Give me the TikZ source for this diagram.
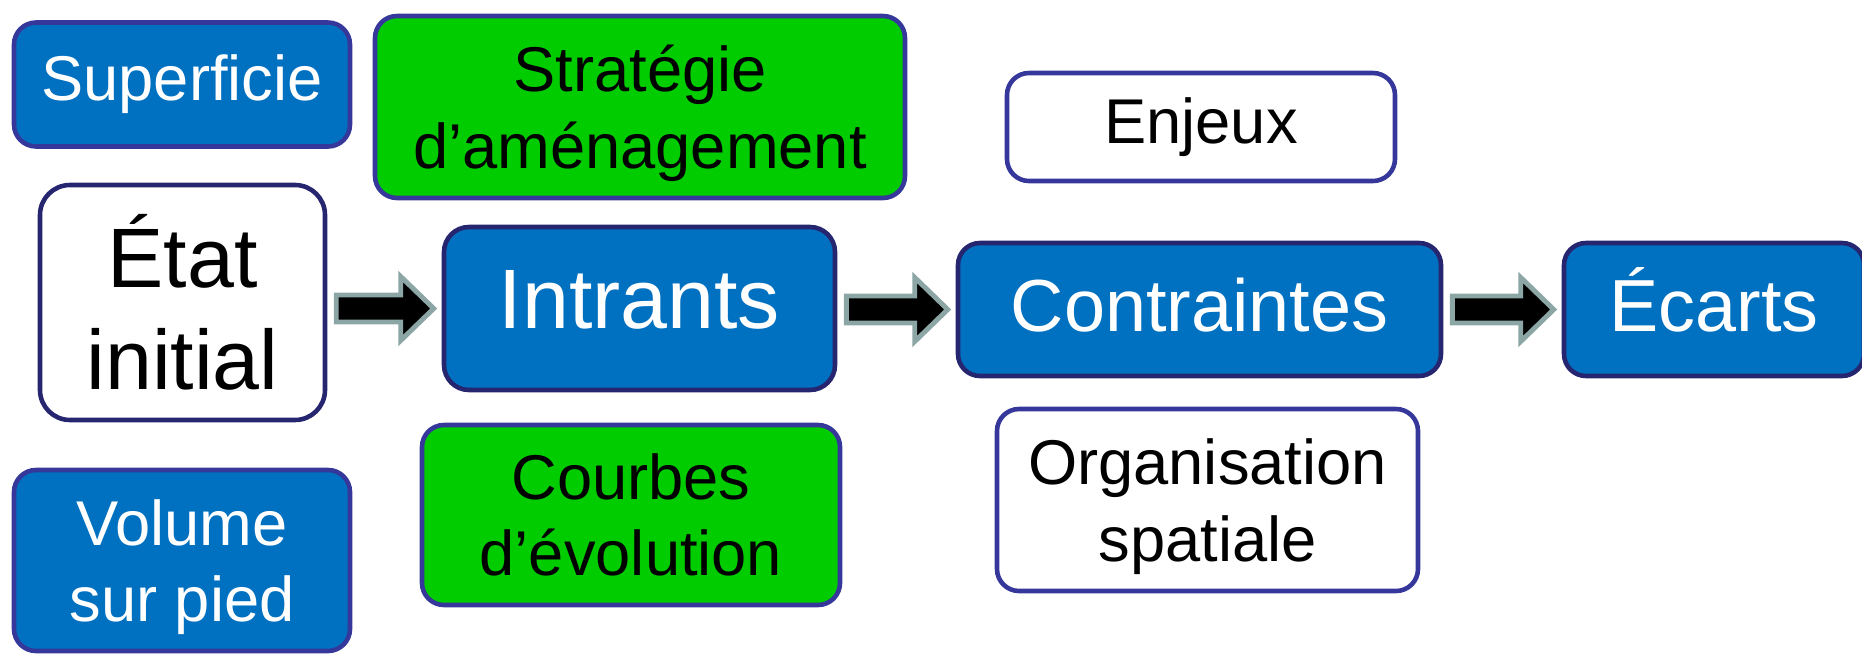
\documentclass[tikz,border=0pt]{standalone}
\usepackage{fontspec}
\setmainfont{Liberation Sans}
\usetikzlibrary{positioning}
\usetikzlibrary{calc}
\definecolor{boxblue}{HTML}{0070C0}
\definecolor{boxgreen}{HTML}{00CC00}
\definecolor{edgenavy}{HTML}{262670}
\definecolor{edgeblue}{HTML}{35389A}
\definecolor{arrowgray}{HTML}{8CA6A6}

\begin{document}
\begin{tikzpicture}[
    card/.style={draw=edgeblue, line width=1.3pt, rounded corners=0.22cm, align=center, inner sep=0pt},
    smalltext/.style={font=\fontsize{18}{21.8}\selectfont},
    midtext/.style={font=\fontsize{21}{25}\selectfont, text height=0.5cm, text depth=0.06cm},
    largetext/.style={font=\fontsize{24}{29}\selectfont},
    bluecard/.style={card, fill=boxblue, text=white},
    greencard/.style={card, fill=boxgreen},
    whitecard/.style={card, fill=white},
    fatarrow/.style={fill=black, draw=arrowgray, line width=1.4pt, line join=miter}
  ]
    \useasboundingbox (0,0) rectangle (18.62,-6.55);

    % colonne de gauche
    \node[bluecard, smalltext, minimum width=3.36cm, minimum height=1.24cm] (sup) at (1.82,-0.845) {Superficie};
    \node[whitecard, draw=edgenavy, largetext, minimum width=2.85cm, minimum height=2.35cm, rounded corners=0.3cm] (etat) at (1.825,-3.025) {État\\initial};
    \node[bluecard, smalltext, text depth=0pt, minimum width=3.36cm, minimum height=1.81cm] (vol) at (1.82,-5.605) {Volume\\sur pied};

    % colonne des intrants
    \node[greencard, smalltext, text depth=0pt, minimum width=5.30cm, minimum height=1.82cm] (strat) at (6.40,-1.07) {Stratégie\\d’aménagement};
    \node[bluecard, draw=edgenavy, largetext, text height=0.45cm, text depth=0.06cm, minimum width=3.91cm, minimum height=1.63cm, rounded corners=0.25cm] (intr) at (6.395,-3.085) {Intrants};
    \node[greencard, smalltext, minimum width=4.18cm, minimum height=1.80cm] (courbes) at (6.31,-5.15) {Courbes\\d’évolution};

    % colonne des contraintes
    \node[whitecard, smalltext, minimum width=3.88cm, minimum height=1.08cm] (enj) at (12.01,-1.27) {Enjeux};
    \node[bluecard, draw=edgenavy, midtext, minimum width=4.83cm, minimum height=1.33cm] (contr) at (11.995,-3.095) {Contraintes};
    \node[whitecard, smalltext, text depth=0pt, minimum width=4.21cm, minimum height=1.82cm] (org) at (12.075,-5.0) {Organisation\\spatiale};

    \node[bluecard, draw=edgenavy, midtext, minimum width=3.0cm, minimum height=1.33cm] (ecarts) at (17.14,-3.095) {Écarts};

    % fleches pleines
    \foreach \a/\b in {etat/intr, intr/contr, contr/ecarts} {
        \coordinate (\a-tip) at ($(\b.west)+(-0.08,0)$);
        \coordinate (\a-tail) at ($(\a.east)+(0.09,0)$);
        \draw[fatarrow] ($(\a-tail |- \a-tip)+(0,0.135)$) -- ($(\a-tip)+(-0.33,0.135)$)
            -- ($(\a-tip)+(-0.33,0.32)$) -- (\a-tip) -- ($(\a-tip)+(-0.33,-0.32)$)
            -- ($(\a-tip)+(-0.33,-0.135)$) -- ($(\a-tail |- \a-tip)+(0,-0.135)$) -- cycle;
    }
\end{tikzpicture}
\end{document}
